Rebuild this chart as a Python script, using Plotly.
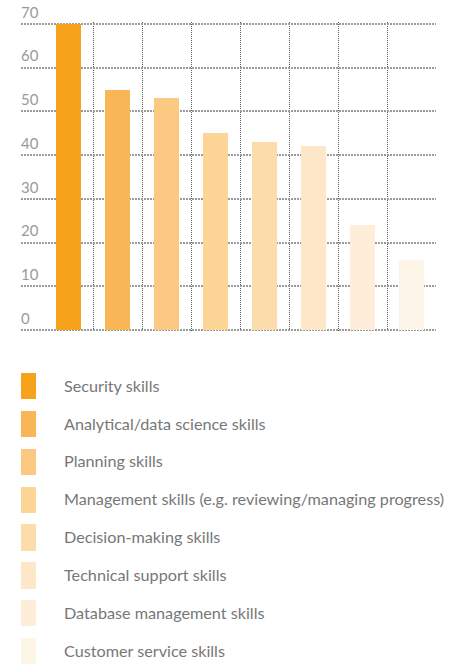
import plotly.graph_objects as go

categories = [
    "Security skills",
    "Analytical/data science skills",
    "Planning skills",
    "Management skills (e.g. reviewing/managing progress)",
    "Decision-making skills",
    "Technical support skills",
    "Database management skills",
    "Customer service skills",
]
values = [70, 55, 53, 45, 43, 42, 24, 16]
colors = ["#F7A21B", "#F9B657", "#FBC981", "#FCD597", "#FDDCAC", "#FEE6C8", "#FEEDD9", "#FEF5E9"]
y_ticks = [0, 10, 20, 30, 40, 50, 60, 70]

idx = list(range(len(categories)))
FONT = "Lato"

fig = go.Figure()
fig.add_trace(go.Bar(
    x=idx, y=values, marker=dict(color=colors, line=dict(width=0)),
    width=0.51, xaxis="x", yaxis="y", showlegend=False, hoverinfo="skip",
))
fig.add_trace(go.Bar(
    y=idx, x=[1] * len(idx), base=0, orientation="h",
    marker=dict(color=colors, line=dict(width=0)),
    width=0.69, xaxis="x2", yaxis="y2", showlegend=False, hoverinfo="skip",
))

W, H = 451, 666
ml, mr, mt, mb = 21, 15, 22, 0
ph = H - mt - mb
pw = W - ml - mr

main_bottom = (H - 332) / ph
leg_top = (H - 367) / ph
row = 37.9
leg_units = (H - 367) / row
pad = 2 / 4.371  # ~2px of padding in data units above/below the grid

fig.update_layout(
    width=W, height=H,
    margin=dict(l=ml, r=mr, t=mt, b=mb),
    paper_bgcolor="white", plot_bgcolor="white",
    font=dict(family=FONT, color="#777777"),
    xaxis=dict(
        domain=[0, 1], range=[-0.97, 7.5],
        tickvals=[0.5, 1.5, 2.5, 3.5, 4.5, 5.5, 6.5],
        showticklabels=False, ticks="",
        showgrid=True, gridcolor="#5a5a5a", griddash="1px,1px", gridwidth=1,
        zeroline=False, showline=False,
    ),
    yaxis=dict(
        domain=[main_bottom, 1], range=[-pad, 70 + pad],
        tickvals=y_ticks, ticktext=[str(v) for v in y_ticks],
        ticklabelposition="inside top", ticklabeloverflow="allow",
        ticklabelstandoff=-3, ticklabelshift=-1,
        tickfont=dict(family=FONT, size=15, color="#9a9a9a"),
        showgrid=True, gridcolor="#9c9c9c", griddash="2px,1px", gridwidth=2,
        zeroline=False, showline=False, ticks="",
    ),
    xaxis2=dict(
        domain=[0, 15 / pw], range=[0, 1], anchor="y2",
        showgrid=False, showticklabels=False, zeroline=False, showline=False,
    ),
    yaxis2=dict(
        domain=[0, leg_top], range=[leg_units - 0.5, -0.5], anchor="x2",
        side="right",
        tickvals=idx, ticktext=categories,
        tickfont=dict(family=FONT, size=16.2, color="#777777"),
        ticks="", ticklabelstandoff=27,
        showgrid=False, zeroline=False, showline=False,
    ),
    bargap=0,
)

fig.write_html("out.html", config={"displayModeBar": False},
               post_script="document.body.style.margin='0';")
